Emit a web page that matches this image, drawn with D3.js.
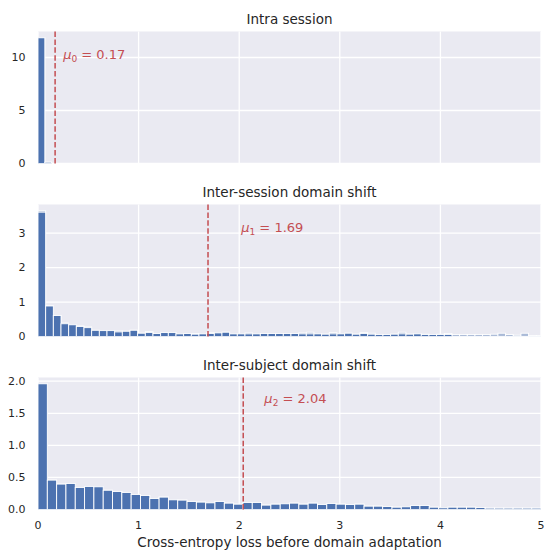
<!DOCTYPE html>
<html>
<head>
<meta charset="utf-8">
<script src="https://cdn.jsdelivr.net/npm/d3@7"></script>
<style>
  body { margin: 0; background: #fff; }
  text { font-family: "DejaVu Sans", sans-serif; fill: #262626; }
</style>
</head>
<body>
<div id="chart"></div>
<script>
// panel titles and axis text
const titles = ["Intra session", "Inter-session domain shift", "Inter-subject domain shift"];
const xLabel = "Cross-entropy loss before domain adaptation";
const xTicks = [0, 1, 2, 3, 4, 5];
const yTicks = [[0, 5, 10], [0, 1, 2, 3], [0, 0.5, 1.0, 1.5, 2.0]];

// histogram bin widths (loss units)
const binWidths = [0.068, 0.0762, 0.0926];

// densities
const intraDark = [11.86, 0.12];
const intraLight = [11.86, 0.12];

const sessionDark = [3.61, 0.886, 0.61, 0.37, 0.34, 0.29, 0.257, 0.18, 0.171, 0.171,
  0.133, 0.152, 0.181, 0.095, 0.114, 0.086, 0.114, 0.114, 0.076, 0.086,
  0.067, 0.076, 0.086, 0.105, 0.124, 0.076, 0.076, 0.076, 0.076, 0.086,
  0.086, 0.086, 0.086, 0.086, 0.076, 0.076, 0.076, 0.067, 0.076, 0.076,
  0.095, 0.067, 0.086, 0.067, 0.057, 0.057, 0.067, 0.076, 0.067, 0.076,
  0, 0.057, 0, 0.057, 0.057, 0, 0, 0, 0, 0,
  0, 0, 0, 0.057, 0, 0];
const sessionLight = [3.65, 0.886, 0.61, 0.39, 0.34, 0.305, 0.276, 0.18, 0.171, 0.171,
  0.162, 0.152, 0.181, 0.095, 0.143, 0.086, 0.114, 0.114, 0.076, 0.086,
  0.086, 0.076, 0.114, 0.105, 0.124, 0.076, 0.076, 0.105, 0.076, 0.086,
  0.086, 0.086, 0.086, 0.086, 0.105, 0.124, 0.076, 0.067, 0.114, 0.076,
  0.095, 0.067, 0.114, 0.095, 0.057, 0.057, 0.067, 0.124, 0.067, 0.076,
  0.067, 0.057, 0.067, 0.086, 0.057, 0.057, 0.057, 0.057, 0.057, 0.067,
  0.095, 0.057, 0.038, 0.095, 0.029, 0.029];

const subjectDark = [1.96, 0.458, 0.396, 0.406, 0.344, 0.36, 0.354, 0.30, 0.28, 0.266,
  0.234, 0.219, 0.172, 0.193, 0.151, 0.146, 0.125, 0.115, 0.104, 0.125,
  0.099, 0.083, 0.109, 0.109, 0.068, 0.083, 0.089, 0.099, 0.083, 0.099,
  0.078, 0.094, 0.083, 0.078, 0.083, 0.052, 0.052, 0.047, 0.036, 0.042,
  0.062, 0.062, 0.036, 0.026, 0.036, 0.036, 0.036, 0.031, 0.021, 0.021,
  0.021, 0.021, 0.021, 0.021];
const subjectLight = subjectDark;

const means = [0.17, 1.69, 2.04];
const meanNames = ["0", "1", "2"];
const meanLabelPos = [[0.25, 9.9], [2.02, 3.03], [2.25, 1.66]];

const panels = [
  { dark: intraDark, light: intraLight },
  { dark: sessionDark, light: sessionLight },
  { dark: subjectDark, light: subjectLight }
];

const w = 547, h = 550;
const left = 38, right = 541;
const tops = [31.5, 204.5, 377.5];
const ph = 132;
const blue = "#4c72b0", red = "#c44e52";

const svg = d3.select("#chart").append("svg")
  .attr("width", w).attr("height", h);

const x = d3.scaleLinear().domain([0, 5]).range([left, right]);

panels.forEach((p, k) => {
  const top = tops[k];
  const ymax = d3.max(p.light.concat(p.dark)) * 1.05;
  const y = d3.scaleLinear().domain([0, ymax]).range([top + ph, top]);
  const g = svg.append("g");

  g.append("rect")
    .attr("x", left).attr("y", top)
    .attr("width", right - left).attr("height", ph)
    .attr("fill", "#eaeaf2");

  // grid
  g.selectAll(".vg").data(xTicks).enter().append("line")
    .attr("x1", d => x(d)).attr("x2", d => x(d))
    .attr("y1", top).attr("y2", top + ph)
    .attr("stroke", "#fff").attr("stroke-width", 1.3);
  g.selectAll(".hg").data(yTicks[k]).enter().append("line")
    .attr("x1", left).attr("x2", right)
    .attr("y1", d => y(d)).attr("y2", d => y(d))
    .attr("stroke", "#fff").attr("stroke-width", 1.3);

  const bw = binWidths[k];
  const clip = "clip" + k;
  svg.append("clipPath").attr("id", clip).append("rect")
    .attr("x", left).attr("y", top).attr("width", right - left).attr("height", ph);
  const bars = g.append("g").attr("clip-path", `url(#${clip})`);

  // light (translucent) bars
  bars.selectAll(".lb").data(p.light).enter().append("rect")
    .filter((d, i) => d > 0)
    .attr("x", (d, i) => x(i * bw))
    .attr("width", x(bw) - x(0))
    .attr("y", d => y(d))
    .attr("height", d => y(0) - y(d))
    .attr("fill", blue).attr("fill-opacity", 0.4)
    .attr("stroke", "#fff").attr("stroke-width", 0.9);

  bars.selectAll(".db").data(p.dark).enter().append("rect")
    .filter((d, i) => d > 0)
    .attr("x", (d, i) => x(i * bw))
    .attr("width", x(bw) - x(0))
    .attr("y", d => y(d))
    .attr("height", d => y(0) - y(d))
    .attr("fill", blue)
    .attr("stroke", "#fff").attr("stroke-width", 0.9);

  // mean line
  g.append("line")
    .attr("x1", x(means[k])).attr("x2", x(means[k]))
    .attr("y1", top).attr("y2", top + ph)
    .attr("stroke", red).attr("stroke-width", 1.5)
    .attr("stroke-dasharray", "5.5,2.4");

  const lbl = g.append("text")
    .attr("x", x(meanLabelPos[k][0]))
    .attr("y", y(meanLabelPos[k][1]))
    .style("font-size", "13px").style("fill", red);
  lbl.append("tspan").attr("font-style", "italic").text("μ");
  lbl.append("tspan").attr("font-size", "9px").attr("dy", 3).text(meanNames[k]);
  lbl.append("tspan").attr("dy", -3).text(" = " + means[k].toFixed(2));

  // y tick labels
  const fmt = k === 2 ? d3.format(".1f") : d3.format("d");
  g.selectAll(".yt").data(yTicks[k]).enter().append("text")
    .attr("x", 25.5).attr("y", d => y(d))
    .attr("dy", "0.35em")
    .attr("text-anchor", "end")
    .style("font-size", "11px")
    .text(fmt);

  g.append("text")
    .attr("x", (left + right) / 2).attr("y", top - 7.5)
    .attr("text-anchor", "middle")
    .style("font-size", "13.5px")
    .text(titles[k]);

  if (k === 2) {
    g.selectAll(".xt").data(xTicks).enter().append("text")
      .attr("x", d => x(d)).attr("y", top + ph + 19)
      .attr("text-anchor", "middle")
      .style("font-size", "11px")
      .text(d => d);
    g.append("text")
      .attr("x", (left + right) / 2).attr("y", 546.5)
      .attr("text-anchor", "middle")
      .style("font-size", "13.5px")
      .text(xLabel);
  }
});
</script>
</body>
</html>
